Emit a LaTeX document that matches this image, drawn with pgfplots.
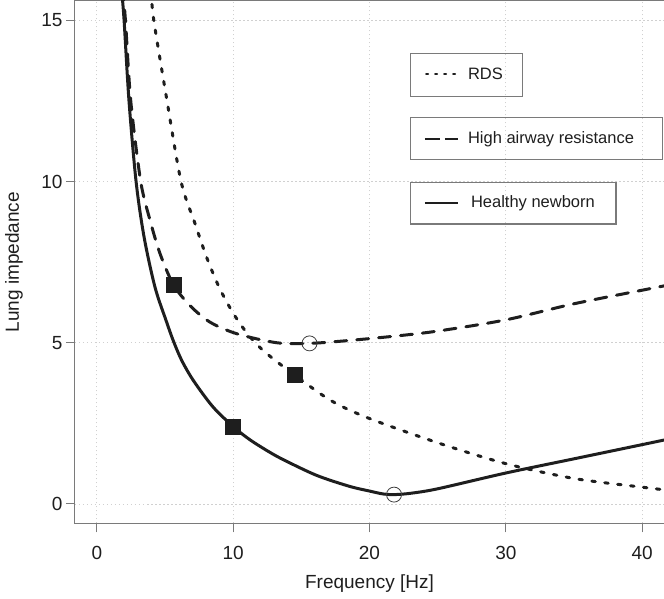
\documentclass[border=0pt]{standalone}
\usepackage{fontspec}
\setmainfont{Liberation Sans}
\usepackage{pgfplots}
\pgfplotsset{compat=1.18}

\definecolor{framegray}{HTML}{7A7A7A}
\definecolor{gridgray}{HTML}{D0D0D0}
\definecolor{ink}{HTML}{1E1E1E}

\begin{document}
\begin{tikzpicture}
\begin{axis}[
  scale only axis, width=589pt, height=522.3pt,
  xmin=-1.6, xmax=41.6, ymin=-0.6, ymax=15.6,
  xtick={0,10,20,30,40}, ytick={0,5,10,15},
  tick pos=left,
  tick align=outside, major tick length=9pt,
  tick style={framegray, line width=1pt},
  axis line style={framegray, line width=1pt},
  grid=major,
  major grid style={gridgray, line width=0.8pt, dash pattern=on 1.5pt off 2.5pt},
  /pgf/number format/assume math mode=true,
  ticklabel style={font=\fontsize{19}{22}\selectfont, text=ink},
  xticklabel style={yshift=-10pt},
  xlabel={Frequency [Hz]}, ylabel={Lung impedance},
  label style={font=\fontsize{19}{22}\selectfont, text=ink},
  xlabel style={at={(axis description cs:0.5,-0.1149)}, anchor=center},
  ylabel style={at={(axis description cs:-0.1036,0.5)}, anchor=center, rotate=0},
]
% Healthy newborn (solid)
\addplot[ink, line width=3pt, smooth] coordinates {
 (1.82,15.95) (2.0,15.0) (2.36,12.5) (2.88,10.0) (3.47,8.27) (4.27,6.72)
 (5.08,5.69) (5.62,5.05) (6.23,4.45) (7.08,3.83) (8.5,3.02) (10,2.4)
 (11.2,2.0) (12.5,1.65) (13.65,1.38) (16.1,0.89) (18.5,0.55) (20,0.40)
 (21,0.31) (21.8,0.29) (23,0.33) (25,0.47) (30,0.96) (35,1.4) (40,1.84) (41.8,2.0)
};
% High airway resistance (dashed)
\addplot[ink, line width=3pt, line cap=round, dash pattern=on 12pt off 10pt, smooth] coordinates {
 (1.9,16.0) (2.1,15.0) (2.49,12.5) (3.22,10.0) (3.91,8.79) (4.64,7.76)
 (5.62,6.80) (6.84,6.15) (8.3,5.64) (10.26,5.28) (13.2,5.0) (15.6,4.98)
 (18.5,5.07) (22.2,5.22) (25.13,5.37) (30,5.71) (34.9,6.2) (40,6.63) (41.8,6.78)
};
% RDS (dotted)
\addplot[ink, line width=3pt, line cap=round, dash pattern=on 3.5pt off 9.5pt, smooth] coordinates {
 (3.98,15.9) (4.18,15.0) (5.15,12.5) (6.18,10.0) (7.2,8.7) (8.1,7.6)
 (9.05,6.65) (10.1,5.85) (11.2,5.2) (12.42,4.68) (14.5,4.0) (17.2,3.2)
 (20,2.65) (25.13,1.88) (30,1.25) (35,0.79) (40,0.52) (41.8,0.43)
};
% square markers
\addplot[only marks, mark=square*, mark size=7.5pt, mark options={fill=ink, draw=ink, solid}] coordinates {
 (5.62,6.80) (10,2.4) (14.5,4.0)
};
% circle markers
\addplot[only marks, mark=o, mark size=7.5pt, mark options={draw=black!75, line width=0.8pt, solid}] coordinates {
 (15.6,4.98) (21.8,0.29)
};
% legend boxes
\draw[framegray, line width=1.1pt] (rel axis cs:0.569,0.817) rectangle (rel axis cs:0.759,0.900);
\draw[framegray, line width=1.1pt] (rel axis cs:0.569,0.696) rectangle (rel axis cs:0.997,0.777);
\draw[framegray, line width=1.1pt] (rel axis cs:0.569,0.573) rectangle (rel axis cs:0.9185,0.653);
\draw[ink, line width=2pt, line cap=round, dash pattern=on 2pt off 7pt] (rel axis cs:0.596,0.860) -- (rel axis cs:0.650,0.860);
\draw[ink, line width=2.2pt, dash pattern=on 15pt off 5pt] (rel axis cs:0.594,0.735) -- (rel axis cs:0.650,0.735);
\draw[ink, line width=2pt] (rel axis cs:0.594,0.613) -- (rel axis cs:0.650,0.613);
\node[anchor=west, inner sep=0pt, font=\fontsize{16.5}{19}\selectfont, text=ink] at (rel axis cs:0.667,0.860) {RDS};
\node[anchor=west, inner sep=0pt, font=\fontsize{16.5}{19}\selectfont, text=ink] at (rel axis cs:0.667,0.735) {High airway resistance};
\node[anchor=west, inner sep=0pt, font=\fontsize{16.5}{19}\selectfont, text=ink] at (rel axis cs:0.672,0.613) {Healthy newborn};
\end{axis}
\pgfresetboundingbox
\path[use as bounding box] ([xshift=-75pt,yshift=-75pt]current axis.south west) rectangle ([yshift=1pt]current axis.north east);
\end{tikzpicture}
\end{document}
